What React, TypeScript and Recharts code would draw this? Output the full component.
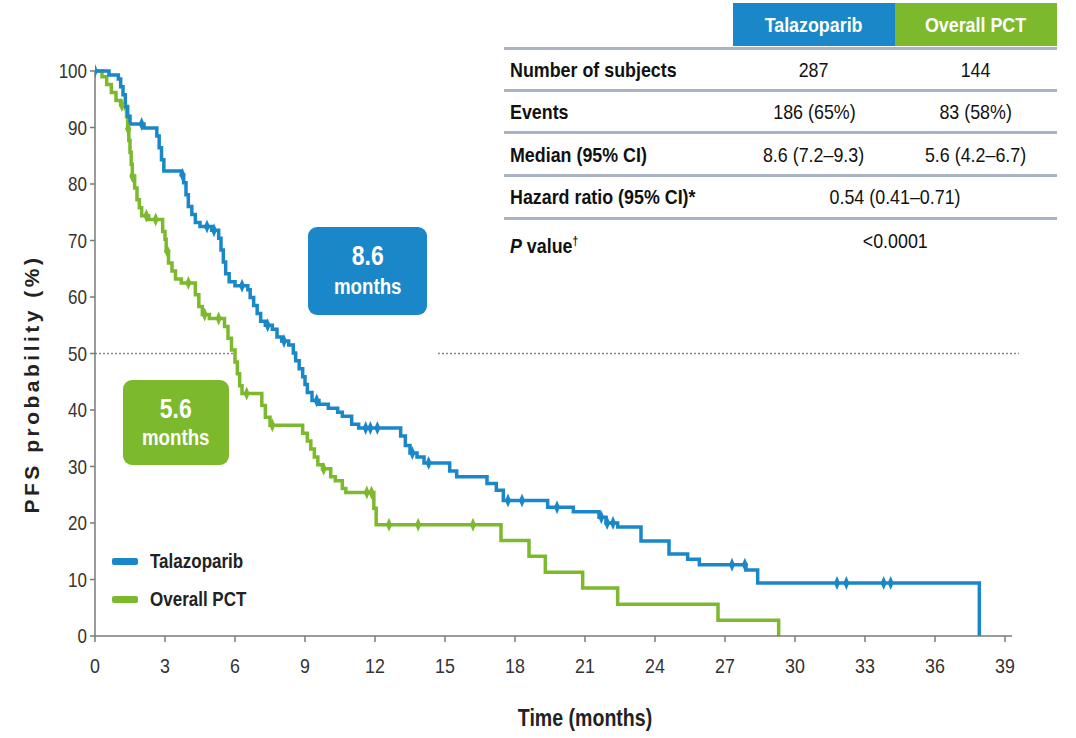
import React from 'react';
import { ComposedChart, Line, Scatter, XAxis, YAxis, ReferenceLine } from 'recharts';

const BLUE = '#1a87c8';
const GREEN = '#7cb92c';
const FONT = "'Liberation Sans', Arial, sans-serif";
const SQUEEZE = 0.85;

const xTicks = [0, 3, 6, 9, 12, 15, 18, 21, 24, 27, 30, 33, 36, 39];
const yTicks = [0, 10, 20, 30, 40, 50, 60, 70, 80, 90, 100];

// Talazoparib KM steps
const talaTimes = [0, 0.6, 1.0, 1.1, 1.2, 1.3, 1.4, 1.5, 2.1, 2.65, 2.75, 2.85, 2.95, 3.7, 3.8, 3.9, 4.0, 4.15, 4.3, 4.5, 5.0, 5.3, 5.4, 5.5, 5.6, 5.75, 6.0, 6.55, 6.65, 6.8, 6.95, 7.1, 7.3, 7.6, 7.8, 8.0, 8.3, 8.5, 8.6, 8.75, 8.9, 9.0, 9.1, 9.3, 9.6, 10.0, 10.4, 10.6, 11.0, 11.3, 13.1, 13.3, 13.5, 13.8, 14.1, 15.2, 15.5, 16.8, 17.2, 17.5, 19.4, 20.5, 21.6, 21.9, 22.4, 23.4, 24.6, 25.4, 25.9, 27.9, 28.4, 37.9];
const talaSurv = [100, 99.3, 98.6, 97.2, 95.8, 93.7, 92.0, 90.6, 89.9, 88.5, 86.4, 84.3, 82.3, 81.6, 80.2, 78.1, 76.0, 74.6, 73.2, 72.5, 71.8, 70.4, 68.3, 66.2, 64.1, 62.7, 62.0, 61.3, 59.9, 58.5, 57.1, 55.7, 55.0, 54.3, 52.9, 52.2, 51.5, 50.1, 48.7, 47.3, 45.9, 44.5, 43.1, 41.7, 41.0, 40.3, 39.6, 38.9, 37.5, 36.8, 35.4, 33.7, 32.4, 31.7, 30.6, 29.2, 28.2, 27.0, 25.8, 24.0, 22.8, 22.0, 21.0, 20.0, 19.3, 16.8, 14.5, 13.6, 12.6, 11.7, 9.4, 0];

// Overall PCT KM steps
const pctTimes = [0, 0.3, 0.5, 0.7, 0.9, 1.1, 1.3, 1.35, 1.4, 1.45, 1.5, 1.55, 1.6, 1.7, 1.8, 1.9, 2.0, 2.3, 2.9, 3.0, 3.05, 3.15, 3.3, 3.45, 3.7, 4.3, 4.45, 4.6, 4.9, 5.55, 5.7, 5.85, 6.0, 6.1, 6.2, 6.3, 7.15, 7.3, 7.5, 8.9, 9.1, 9.25, 9.4, 9.55, 9.75, 10.1, 10.3, 10.6, 10.75, 11.95, 12.05, 17.4, 18.6, 19.3, 20.9, 22.4, 26.7, 29.3];
const pctSurv = [100, 99.0, 97.6, 96.2, 94.8, 94.0, 93.3, 91.9, 89.8, 87.7, 85.6, 83.5, 81.4, 79.3, 77.2, 75.8, 74.4, 73.7, 71.6, 70.2, 68.1, 66.0, 64.6, 63.2, 62.5, 60.4, 58.3, 56.9, 56.2, 54.8, 52.7, 50.6, 48.5, 46.4, 44.3, 42.9, 40.8, 38.7, 37.3, 35.9, 34.5, 33.1, 31.7, 30.3, 29.6, 28.2, 27.5, 26.1, 25.4, 22.6, 19.7, 16.9, 14.1, 11.3, 8.5, 5.6, 2.8, 0];

// Censor marks
const talaCensorTimes = [0, 2.0, 3.75, 4.8, 5.1, 6.3, 7.4, 8.1, 9.5, 11.6, 11.8, 12.1, 13.6, 14.3, 17.7, 18.3, 19.8, 21.7, 21.95, 22.2, 27.3, 27.85, 31.8, 32.2, 33.8, 34.1];
const talaCensorSurv = [100, 90.6, 81.6, 72.5, 71.8, 62.0, 55.0, 52.2, 41.7, 36.8, 36.8, 36.8, 32.4, 30.6, 24.0, 24.0, 22.8, 21.0, 20.0, 20.0, 12.6, 12.6, 9.4, 9.4, 9.4, 9.4];
const pctCensorTimes = [1.15, 1.42, 1.6, 2.2, 2.6, 3.1, 4.0, 4.7, 5.3, 6.5, 7.6, 9.8, 11.65, 11.85, 12.6, 13.85, 16.2];
const pctCensorSurv = [94.0, 89.8, 81.4, 74.4, 73.7, 68.1, 62.5, 56.9, 56.2, 42.9, 37.3, 29.6, 25.4, 25.4, 19.7, 19.7, 19.7];

// Table
const rowLabels = ['Number of subjects', 'Events', 'Median (95% CI)', 'Hazard ratio (95% CI)*', 'P value†'];
const talaCol = ['287', '186 (65%)', '8.6 (7.2–9.3)'];
const pctCol = ['144', '83 (58%)', '5.6 (4.2–6.7)'];
const jointCol = ['0.54 (0.41–0.71)', '<0.0001'];
const seriesNames = ['Talazoparib', 'Overall PCT'];
const medians = ['8.6', '5.6'];

const toPoints = (ts: number[], ss: number[]) => ts.map((t, i) => ({ t, s: ss[i] }));

const talaData = toPoints(talaTimes, talaSurv);
const pctData = toPoints(pctTimes, pctSurv);
const talaCensor = toPoints(talaCensorTimes, talaCensorSurv);
const pctCensor = toPoints(pctCensorTimes, pctCensorSurv);

const diamond = (color: string) => (props: any) => {
  const { cx, cy } = props;
  if (cx == null || cy == null) return <g />;
  return <path d={`M${cx},${cy - 7} L${cx + 3},${cy} L${cx},${cy + 7} L${cx - 3},${cy} Z`} fill={color} />;
};

const XTick = (props: any) => {
  const { x, y, payload } = props;
  return (
    <text transform={`translate(${x},${y}) scale(${SQUEEZE},1)`} textAnchor="middle" dy="0.71em" fill="#333" fontSize={21} fontFamily={FONT}>
      {payload.value}
    </text>
  );
};
const YTick = (props: any) => {
  const { x, y, payload } = props;
  return (
    <text transform={`translate(${x},${y}) scale(${SQUEEZE},1)`} textAnchor="end" dy="0.355em" fill="#333" fontSize={20} fontFamily={FONT}>
      {payload.value}
    </text>
  );
};

const N = ({ children, origin = 'center' }: { children: React.ReactNode; origin?: string }) => (
  <span style={{ display: 'inline-block', transform: `scaleX(${SQUEEZE})`, transformOrigin: origin, whiteSpace: 'nowrap' }}>{children}</span>
);

const rowCenters = [70, 112, 155, 197, 241];
const lineYs = [47, 89, 131, 174, 217];

const abs = (style: React.CSSProperties): React.CSSProperties => ({ position: 'absolute', ...style });

export default function App() {
  return (
    <div style={{ position: 'absolute', left: 0, top: 0, width: 1076, height: 738, background: '#fff', overflow: 'hidden' }}>
      <ComposedChart width={1076} height={738} margin={{ top: 71, right: 64, bottom: 62, left: 35 }}>
        <XAxis
          type="number"
          dataKey="t"
          domain={[0, 39.3]}
          ticks={xTicks}
          allowDataOverflow
          height={40}
          tickSize={6}
          tickMargin={16}
          axisLine={{ stroke: '#7a7a7a', strokeWidth: 1.5 }}
          tickLine={{ stroke: '#7a7a7a', strokeWidth: 1.5 }}
          tick={<XTick />}
        />
        <YAxis
          type="number"
          domain={[0, 100]}
          ticks={yTicks}
          width={60}
          tickSize={5}
          tickMargin={3}
          axisLine={{ stroke: '#7a7a7a', strokeWidth: 1.5 }}
          tickLine={{ stroke: '#7a7a7a', strokeWidth: 1.5 }}
          tick={<YTick />}
        />
        <ReferenceLine segment={[{ x: 0, y: 50 }, { x: 6, y: 50 }]} stroke="#888" strokeWidth={1.5} strokeDasharray="2 2" />
        <ReferenceLine segment={[{ x: 14.7, y: 50 }, { x: 39.6, y: 50 }]} stroke="#888" strokeWidth={1.5} strokeDasharray="2 2" ifOverflow="visible" />
        <Line data={pctData} dataKey="s" type="stepAfter" stroke={GREEN} strokeWidth={3.5} dot={false} activeDot={false} isAnimationActive={false} />
        <Line data={talaData} dataKey="s" type="stepAfter" stroke={BLUE} strokeWidth={3.5} dot={false} activeDot={false} isAnimationActive={false} />
        <Scatter data={pctCensor} dataKey="s" shape={diamond(GREEN)} isAnimationActive={false} />
        <Scatter data={talaCensor} dataKey="s" shape={diamond(BLUE)} isAnimationActive={false} />
      </ComposedChart>

      {/* Axis titles */}
      <div style={abs({ left: 32 - 160, top: 384 - 14, width: 320, height: 28, lineHeight: '28px', textAlign: 'center', transform: 'rotate(-90deg)', fontFamily: FONT, fontWeight: 'bold', fontSize: 21, letterSpacing: 3.5, color: '#222' })}>
        PFS probability (%)
      </div>
      <div style={abs({ left: 485, top: 704, width: 200, height: 28, lineHeight: '28px', textAlign: 'center', fontFamily: FONT, fontWeight: 'bold', fontSize: 23, color: '#222' })}>
        <N>Time (months)</N>
      </div>

      {/* Legend */}
      {[BLUE, GREEN].map((c, i) => (
        <React.Fragment key={i}>
          <div style={abs({ left: 112, top: 558 + i * 38, width: 26, height: 7, background: c, borderRadius: 2 })} />
          <div style={abs({ left: 150, top: 548 + i * 38, height: 26, lineHeight: '26px', fontFamily: FONT, fontWeight: 'bold', fontSize: 20, color: '#222' })}>
            <N origin="left">{seriesNames[i]}</N>
          </div>
        </React.Fragment>
      ))}

      {/* Median boxes */}
      <div style={abs({ left: 308, top: 227, width: 119, height: 88, background: BLUE, borderRadius: 9, color: '#fff', fontFamily: FONT, fontWeight: 'bold', textAlign: 'center' })}>
        <div style={{ fontSize: 27, lineHeight: '28px', marginTop: 15 }}><N>{medians[0]}</N></div>
        <div style={{ fontSize: 22, lineHeight: '26px', marginTop: 4 }}><N>months</N></div>
      </div>
      <div style={abs({ left: 123, top: 380, width: 106, height: 85, background: GREEN, borderRadius: 9, color: '#fff', fontFamily: FONT, fontWeight: 'bold', textAlign: 'center' })}>
        <div style={{ fontSize: 27, lineHeight: '28px', marginTop: 15 }}><N>{medians[1]}</N></div>
        <div style={{ fontSize: 22, lineHeight: '26px', marginTop: 2 }}><N>months</N></div>
      </div>

      {/* Table header */}
      <div style={abs({ left: 733, top: 3, width: 162, height: 43, background: BLUE, color: '#fff', fontFamily: FONT, fontWeight: 'bold', fontSize: 21, lineHeight: '43px', textAlign: 'center' })}><N>{seriesNames[0]}</N></div>
      <div style={abs({ left: 895, top: 3, width: 162, height: 43, background: GREEN, color: '#fff', fontFamily: FONT, fontWeight: 'bold', fontSize: 21, lineHeight: '43px', textAlign: 'center' })}><N>{seriesNames[1]}</N></div>
      {lineYs.map((y, i) => (
        <div key={'l' + i} style={abs({ left: 504, top: y, width: 553, height: 3, background: '#aab3c2' })} />
      ))}
      {rowLabels.map((lab, i) => (
        <div key={'r' + i} style={abs({ left: 510, top: rowCenters[i] - 14, height: 28, lineHeight: '28px', fontFamily: FONT, fontWeight: 'bold', fontSize: 21, color: '#111', whiteSpace: 'nowrap' })}>
          <N origin="left">{i === 4 ? (<><i>P</i>{' value'}<sup style={{ fontSize: 12 }}>†</sup></>) : lab}</N>
        </div>
      ))}
      {talaCol.map((v, i) => (
        <div key={'a' + i} style={abs({ left: 733, top: rowCenters[i] - 14, width: 162, height: 28, lineHeight: '28px', textAlign: 'center', fontFamily: FONT, fontSize: 21, color: '#111' })}><N>{v}</N></div>
      ))}
      {pctCol.map((v, i) => (
        <div key={'b' + i} style={abs({ left: 895, top: rowCenters[i] - 14, width: 162, height: 28, lineHeight: '28px', textAlign: 'center', fontFamily: FONT, fontSize: 21, color: '#111' })}><N>{v}</N></div>
      ))}
      {jointCol.map((v, i) => (
        <div key={'c' + i} style={abs({ left: 733, top: rowCenters[i + 3] - 14, width: 324, height: 28, lineHeight: '28px', textAlign: 'center', fontFamily: FONT, fontSize: 21, color: '#111' })}><N>{v}</N></div>
      ))}
    </div>
  );
}
